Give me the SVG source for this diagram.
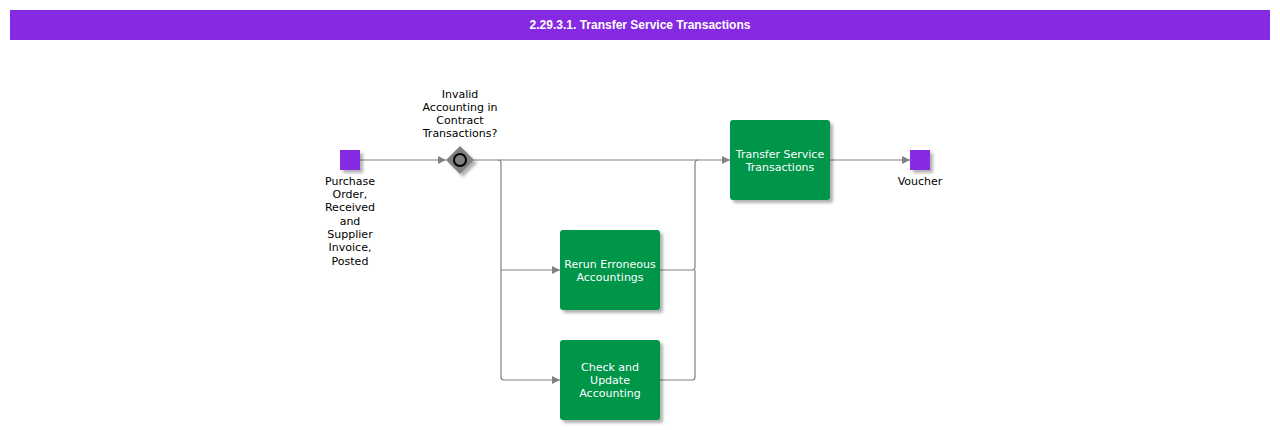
<svg xmlns="http://www.w3.org/2000/svg" width="1280" height="430" viewBox="0 0 1280 430">
<style>
text{font-family:"DejaVu Sans",sans-serif;font-size:11px;text-anchor:middle}
.w{fill:#fff}.k{fill:#000}
.task{fill:#009649}
.ev{fill:#8629e3}
.c{fill:none;stroke:#808080;stroke-width:1.2}
</style>
<defs>
<filter id="sh" x="-20%" y="-20%" width="150%" height="150%"><feDropShadow dx="3" dy="3" stdDeviation="1.5" flood-color="#000" flood-opacity="0.3"/></filter>
<marker id="a" viewBox="0 0 10 10" refX="10" refY="5" markerWidth="10" markerHeight="8" orient="auto" markerUnits="userSpaceOnUse"><path d="M0,0L10,5L0,10z" fill="#808080"/></marker>
</defs>
<rect x="10" y="10" width="1260" height="30" fill="#8629e3"/>
<text x="640" y="29" class="w" style="font-weight:bold;font-size:12px;font-family:'Liberation Sans',sans-serif">2.29.3.1. Transfer Service Transactions</text>
<g id="connectors">
<path class="c" d="M360,160H446" marker-end="url(#a)"/>
<path class="c" d="M474,160H730" marker-end="url(#a)"/>
<path class="c" d="M498,160q3,0 3,3V377q0,3 3,3H560" marker-end="url(#a)"/>
<path class="c" d="M501,270H560" marker-end="url(#a)"/>
<path class="c" d="M660,270H692q3,0 3,-3V163q0,-3 3,-3"/>
<path class="c" d="M660,380H692q3,0 3,-3V270"/>
<path class="c" d="M830,160H910" marker-end="url(#a)"/>
</g>
<g id="start"><rect x="340" y="150" width="20" height="20" class="ev" filter="url(#sh)"/>
<text x="350" y="185" class="k">Purchase</text><text x="350" y="198" class="k">Order,</text><text x="350" y="211" class="k">Received</text><text x="350" y="225" class="k">and</text><text x="350" y="238" class="k">Supplier</text><text x="350" y="251" class="k">Invoice,</text><text x="350" y="265" class="k">Posted</text></g>
<g id="gateway"><path d="M460,146L474,160L460,174L446,160z" fill="#808080" filter="url(#sh)"/><circle cx="460" cy="160" r="6" fill="none" stroke="#000" stroke-width="2"/>
<text x="460" y="98" class="k">Invalid</text><text x="460" y="111" class="k">Accounting in</text><text x="460" y="124" class="k">Contract</text><text x="460" y="137" class="k">Transactions?</text></g>
<g id="transfer"><rect x="730" y="120" width="100" height="80" rx="3" class="task" filter="url(#sh)"/><text x="780" y="158" class="w">Transfer Service</text><text x="780" y="171" class="w">Transactions</text></g>
<g id="rerun"><rect x="560" y="230" width="100" height="80" rx="3" class="task" filter="url(#sh)"/><text x="610" y="268" class="w">Rerun Erroneous</text><text x="610" y="281" class="w">Accountings</text></g>
<g id="check"><rect x="560" y="340" width="100" height="80" rx="3" class="task" filter="url(#sh)"/><text x="610" y="371" class="w">Check and</text><text x="610" y="384" class="w">Update</text><text x="610" y="397" class="w">Accounting</text></g>
<g id="end"><rect x="910" y="150" width="20" height="20" class="ev" filter="url(#sh)"/><text x="920" y="185" class="k">Voucher</text></g>
</svg>
